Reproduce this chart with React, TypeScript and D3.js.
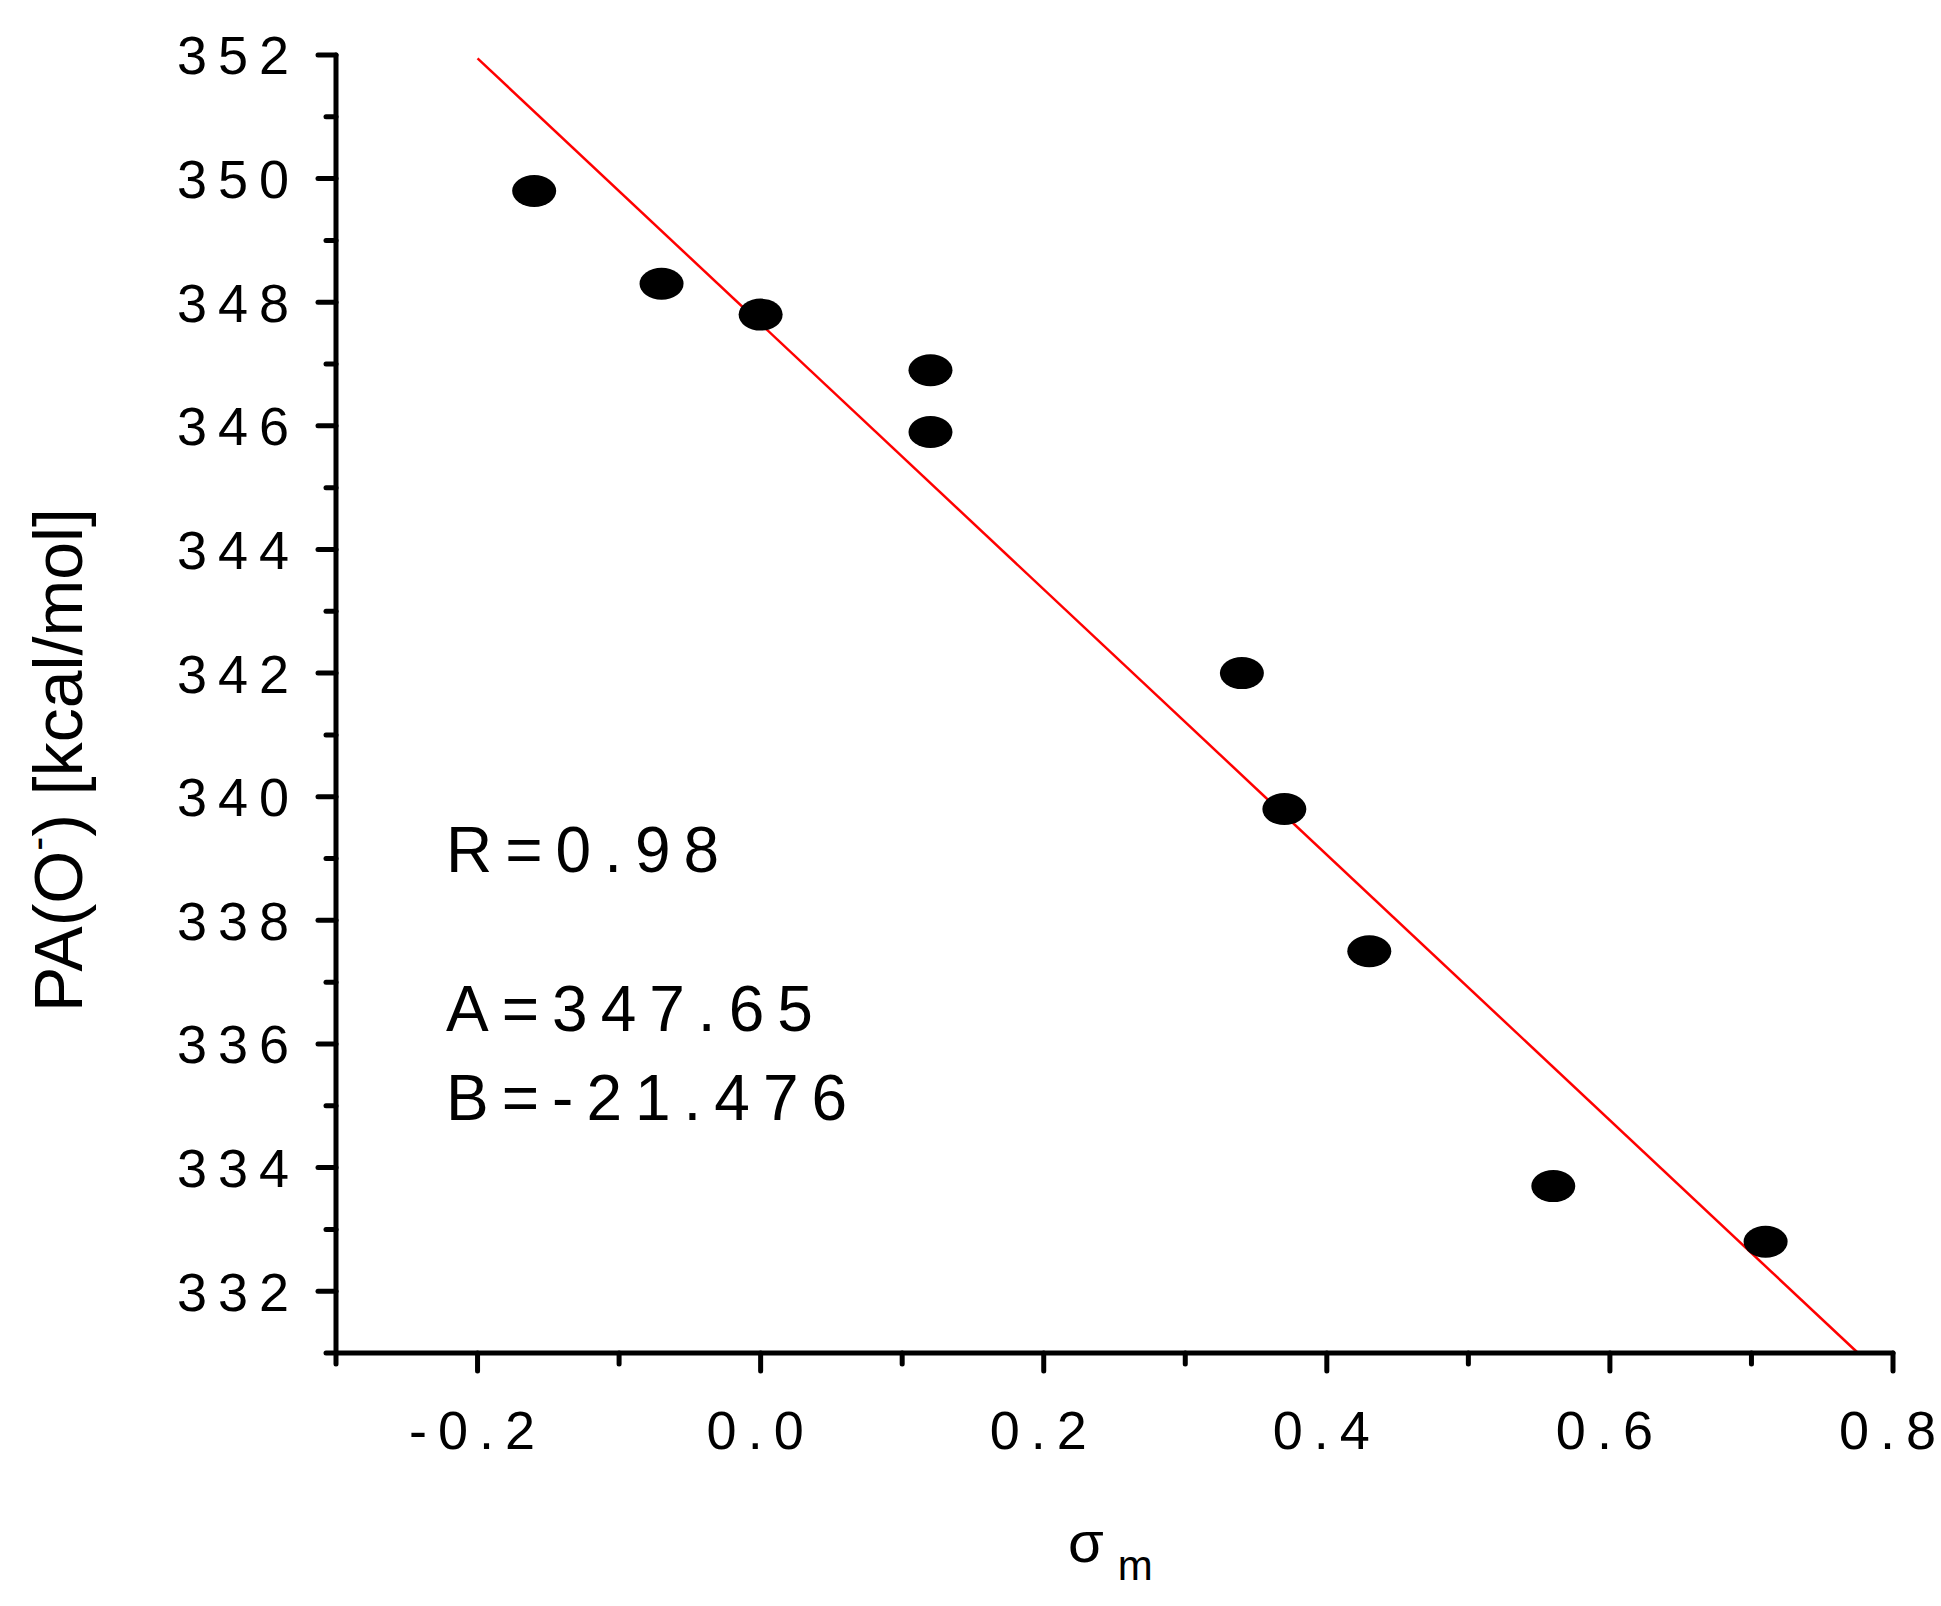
import React from "react";
import * as d3 from "d3";

const sigma = [-0.16, -0.07, 0.0, 0.12, 0.12, 0.34, 0.37, 0.43, 0.56, 0.71];
const pa = [349.8, 348.3, 347.8, 346.9, 345.9, 342.0, 339.8, 337.5, 333.7, 332.8];
const fitA = 347.65;
const fitB = -21.476;
const xTicks = [-0.2, 0.0, 0.2, 0.4, 0.6, 0.8];
const xMinor = [-0.3, -0.1, 0.1, 0.3, 0.5, 0.7];
const yTicks = [332, 334, 336, 338, 340, 342, 344, 346, 348, 350, 352];
const yMinor = [331, 333, 335, 337, 339, 341, 343, 345, 347, 349, 351];

export default function App() {
  const x = d3.scaleLinear().domain([-0.3, 0.8]).range([336, 1893]);
  const y = d3.scaleLinear().domain([331, 352]).range([1353, 55]);
  const x0 = -0.2;
  const x1 = (331 - fitA) / fitB;
  const font = "'Liberation Sans', Arial, sans-serif";
  return (
    <svg width={1941} height={1606} style={{ position: "absolute", left: 0, top: 0, background: "#fff" }} fontFamily={font}>
      <line x1={x(x0)} y1={y(fitA + fitB * x0)} x2={x(x1)} y2={y(331)} stroke="#ff0000" strokeWidth={2.5} />
      {sigma.map((s, i) => (
        <ellipse key={i} cx={x(s)} cy={y(pa[i])} rx={22} ry={16} fill="#000" />
      ))}
      <line x1={336} y1={y(352)} x2={336} y2={1353} stroke="#000" strokeWidth={5} strokeLinecap="round" />
      <line x1={336} y1={1353} x2={1893} y2={1353} stroke="#000" strokeWidth={5} strokeLinecap="round" />
      {yTicks.map((t) => (
        <g key={t}>
          <line x1={336} x2={318} y1={y(t)} y2={y(t)} stroke="#000" strokeWidth={5} strokeLinecap="round" />
          <text x={300} y={y(t)} dy="0.36em" textAnchor="end" fontSize={54} letterSpacing={11}>{t}</text>
        </g>
      ))}
      {yMinor.map((t) => (
        <line key={t} x1={336} x2={326} y1={y(t)} y2={y(t)} stroke="#000" strokeWidth={5} strokeLinecap="round" />
      ))}
      {xTicks.map((t) => (
        <g key={t}>
          <line x1={x(t)} x2={x(t)} y1={1353} y2={1371} stroke="#000" strokeWidth={5} strokeLinecap="round" />
          <text x={x(t)} y={1449} textAnchor="middle" fontSize={54} letterSpacing={11}>{t.toFixed(1)}</text>
        </g>
      ))}
      {xMinor.map((t) => (
        <line key={t} x1={x(t)} x2={x(t)} y1={1353} y2={1364} stroke="#000" strokeWidth={5} strokeLinecap="round" />
      ))}
      <text x={1068} y={1562} fontSize={58}>σ<tspan fontSize={42} dx={14} dy={18}>m</tspan></text>
      <text transform="translate(82,760) rotate(-90)" textAnchor="middle" fontSize={68}>
        PA(O<tspan dy={-30} fontSize={42}>-</tspan><tspan dy={30}>) [kcal/mol]</tspan>
      </text>
      <text x={446} y={872} fontSize={64} letterSpacing={13}>R=0.98</text>
      <text x={446} y={1031} fontSize={64} letterSpacing={13}>A=347.65</text>
      <text x={446} y={1120} fontSize={64} letterSpacing={13}>B=-21.476</text>
    </svg>
  );
}
